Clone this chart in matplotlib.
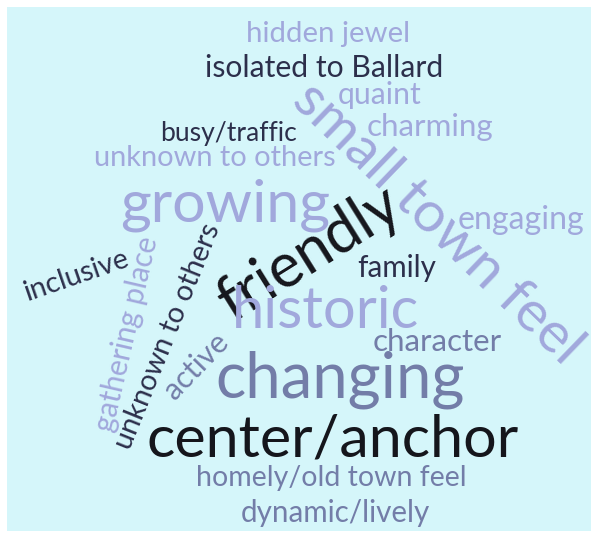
import matplotlib.pyplot as plt
from matplotlib.patches import Rectangle

# words of the cloud and the tone group each one was drawn in
words = ['hidden jewel', 'isolated to Ballard', 'quaint', 'small town feel',
         'charming', 'busy/traffic', 'unknown to others', 'growing',
         'engaging', 'friendly', 'family', 'inclusive', 'gathering place',
         'unknown to others', 'active', 'historic', 'character', 'changing',
         'center/anchor', 'homely/old town feel', 'dynamic/lively']
tones = ['light', 'navy', 'light', 'light', 'light', 'navy', 'light', 'light',
         'light', 'black', 'navy', 'navy', 'light', 'navy', 'slate', 'light',
         'slate', 'slate', 'black', 'slate', 'slate']

# layout in picture pixels: centre x, centre y, length along baseline, angle
layout = [(328, 34, 165, 0), (324, 68, 238, 0), (380, 95, 84, 0),
          (437, 224, 380, -44), (430, 127, 127, 0), (229, 133, 137, 0),
          (215, 158, 243, 0), (225, 205, 210, 0), (521, 220, 127, 0),
          (310, 254, 205, 32), (397, 268, 79, 0), (76, 276, 110, 19),
          (127, 334, 200, 77), (168, 336, 242, 68), (196, 366, 80, 46),
          (326, 311, 188, 0), (437, 342, 130, 0), (340, 380, 250, 0),
          (333, 440, 374, 0), (331, 478, 270, 0), (335, 513, 190, 0)]

colors = {'light': '#a1a8dc', 'navy': '#2c2f4b', 'slate': '#737da8',
          'black': '#15161c'}

W, H = 597, 533
fig = plt.figure(figsize=(W / 100, H / 100), dpi=100)
ax = fig.add_axes([0, 0, 1, 1])
ax.set_xlim(0, W)
ax.set_ylim(H, 0)
ax.axis('off')
fig.patch.set_facecolor('white')
ax.add_patch(Rectangle((7, 7), 584, 524, facecolor='#d5f6fa', edgecolor='none'))

renderer = fig.canvas.get_renderer()
for word, tone, (x, y, length, angle) in zip(words, tones, layout):
    t = ax.text(x, y, word, fontsize=20, family='Lato', color=colors[tone],
                ha='center', va='center', rotation=0)
    w = t.get_window_extent(renderer).width
    t.set_fontsize(20 * length / w)
    t.set_rotation(angle)
    t.set_rotation_mode('anchor')

fig.savefig('out.png', dpi=100)
